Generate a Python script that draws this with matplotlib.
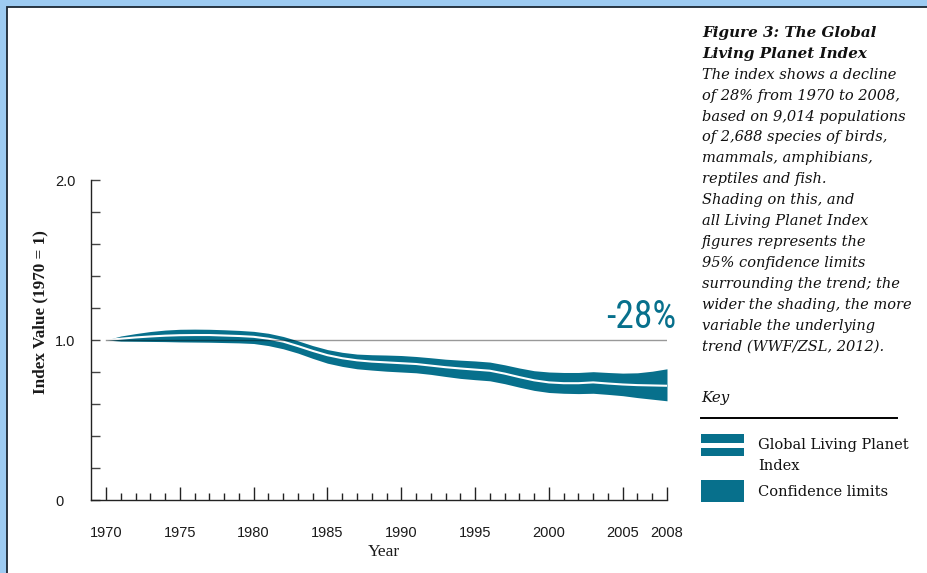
import matplotlib
matplotlib.use("Agg")
import matplotlib.pyplot as plt
from matplotlib.patches import Rectangle
from matplotlib.lines import Line2D
from matplotlib.ticker import FixedLocator

# ---------------- data ----------------
years = list(range(1970, 2009))
lpi_index = [1.000, 1.008, 1.016, 1.022, 1.027, 1.030, 1.031, 1.031, 1.028, 1.025,
             1.020, 1.008, 0.990, 0.962, 0.932, 0.905, 0.886, 0.873, 0.865, 0.860,
             0.855, 0.850, 0.840, 0.830, 0.822, 0.815, 0.808, 0.790, 0.768, 0.748,
             0.735, 0.730, 0.730, 0.735, 0.728, 0.722, 0.718, 0.716, 0.714]
ci_upper = [1.000, 1.025, 1.040, 1.053, 1.062, 1.067, 1.068, 1.067, 1.064, 1.060,
            1.054, 1.042, 1.022, 0.995, 0.965, 0.940, 0.923, 0.912, 0.908, 0.906,
            0.903, 0.897, 0.889, 0.880, 0.874, 0.869, 0.862, 0.845, 0.825, 0.808,
            0.800, 0.797, 0.797, 0.802, 0.797, 0.793, 0.795, 0.805, 0.820]
ci_lower = [1.000, 0.993, 0.992, 0.991, 0.990, 0.988, 0.987, 0.986, 0.984, 0.982,
            0.978, 0.965, 0.945, 0.918, 0.885, 0.855, 0.835, 0.820, 0.812, 0.805,
            0.800, 0.795, 0.785, 0.772, 0.760, 0.752, 0.745, 0.727, 0.705, 0.685,
            0.672, 0.667, 0.665, 0.667, 0.660, 0.652, 0.640, 0.630, 0.620]
reference_level = 1.0
decline_label = "-28%"
xtick_values = [1970, 1975, 1980, 1985, 1990, 1995, 2000, 2005, 2008]
xtick_labels = [str(v) for v in xtick_values]
ytick_values = [0.0, 1.0, 2.0]
ytick_labels = ["0", "1.0", "2.0"]
yminor_values = [i * 0.2 for i in range(11)]
x_label = "Year"
y_label = "Index Value (1970 = 1)"
title_lines = ["Figure 3: The Global", "Living Planet Index"]
body_lines = ["The index shows a decline",
              "of 28% from 1970 to 2008,",
              "based on 9,014 populations",
              "of 2,688 species of birds,",
              "mammals, amphibians,",
              "reptiles and fish.",
              "Shading on this, and",
              "all Living Planet Index",
              "figures represents the",
              "95% confidence limits",
              "surrounding the trend; the",
              "wider the shading, the more",
              "variable the underlying",
              "trend (WWF/ZSL, 2012)."]
key_title = "Key"
legend_index_lines = ["Global Living Planet", "Index"]
legend_ci_label = "Confidence limits"

# ---------------- style ----------------
TEAL = "#07708c"
W, H = 927, 573
fig = plt.figure(figsize=(W / 100, H / 100), dpi=100)
fig.patch.set_facecolor("#9dcbf2")
fig.patches.append(Rectangle((7.5 / W, -0.02), 1.05, 1.02 - 6.5 / H,
                             transform=fig.transFigure, facecolor="white",
                             edgecolor="#1b2633", lw=1.3, zorder=-10))

def fx(px):
    return px / W

def fy(py):
    return 1 - py / H

ax = fig.add_axes([fx(91), (H - 500) / H, 576 / W, 320 / H])
ax.set_zorder(5)
ax.set_facecolor("none")
ax.set_xlim(1968.98, 2008)
ax.set_ylim(0, 2)

for s in ["top", "right"]:
    ax.spines[s].set_visible(False)
for s in ["left", "bottom"]:
    ax.spines[s].set_color("#222222")
    ax.spines[s].set_linewidth(1.0)

ax.fill_between(years, ci_lower, ci_upper, color=TEAL, lw=0, zorder=2)
ax.plot(years, lpi_index, color="white", lw=1.5, zorder=3, solid_capstyle="butt")
ax.plot([years[0], years[-1]], [reference_level, reference_level],
        color="black", alpha=0.4, lw=1.0, zorder=4)

ax.set_xticks(xtick_values)
ax.set_xticklabels(xtick_labels)
ax.xaxis.set_minor_locator(FixedLocator(years))
ax.tick_params(axis="x", which="major", direction="in", length=9.5, width=1.0,
               color="#222222", pad=19, labelsize=10.5, labelcolor="#1a1a1a")
ax.tick_params(axis="x", which="minor", direction="in", length=5, width=1.0,
               color="#222222")
ax.set_yticks(ytick_values)
ax.set_yticklabels(ytick_labels)
ax.yaxis.set_minor_locator(FixedLocator(yminor_values))
ax.tick_params(axis="y", which="both", direction="in", length=6.5, width=1.0,
               color="#444444")
ax.tick_params(axis="y", which="major", pad=26, labelsize=10.5, labelcolor="#1a1a1a")
for lab in ax.get_yticklabels():
    lab.set_horizontalalignment("left")
for lab in ax.get_xticklabels() + ax.get_yticklabels():
    lab.set_family(["Liberation Sans", "DejaVu Sans"])

ax.set_xlabel(x_label, family=["Liberation Serif", "DejaVu Serif"], fontsize=12.5,
              color="#1a1a1a", va="center")
ax.xaxis.set_label_coords((384 - 91) / 576, (500 - 552) / 320)
ax.set_ylabel(y_label, family=["Liberation Serif", "DejaVu Serif"], fontsize=12.3,
              weight="bold", color="#1a1a1a", va="center")
ax.yaxis.set_label_coords((40 - 91) / 576, (500 - 312) / 320)

fig.text(fx(676), fy(318), decline_label, ha="right", va="center", color=TEAL,
         fontsize=27, fontstretch="condensed", weight="normal",
         family=["Roboto Condensed", "Liberation Sans Narrow", "DejaVu Sans"])

# ---------------- side text ----------------
serif = ["DejaVu Serif"]
pitch = 20.9
y0 = 33
for i, line in enumerate(title_lines):
    fig.text(fx(702), fy(y0 + i * pitch), line, ha="left", va="center",
             family=serif, style="italic", weight="bold", fontsize=10.9,
             color="#111111")
for j, line in enumerate(body_lines):
    fig.text(fx(702), fy(y0 + (j + 2) * pitch), line, ha="left", va="center",
             family=serif, style="italic", fontsize=10.5, color="#111111")

fig.text(fx(701), fy(398), key_title, ha="left", va="center", family=serif,
         style="italic", fontsize=10.8, color="#111111")
fig.add_artist(Line2D([fx(701), fx(897)], [fy(418), fy(418)], color="black",
                      lw=1.4, transform=fig.transFigure))

def px_rect(x0, y0p, x1, y1p, color):
    fig.patches.append(Rectangle((fx(x0), fy(y1p)), (x1 - x0) / W, (y1p - y0p) / H,
                                 transform=fig.transFigure, facecolor=color,
                                 edgecolor="none", zorder=2))

px_rect(701, 434, 744, 442.5, TEAL)
px_rect(701, 447.5, 744, 456, TEAL)
px_rect(701, 480, 744, 501.5, TEAL)
fig.text(fx(758), fy(445), legend_index_lines[0], ha="left", va="center",
         family=serif, fontsize=10.5, color="#111111")
fig.text(fx(758), fy(466), legend_index_lines[1], ha="left", va="center",
         family=serif, fontsize=10.5, color="#111111")
fig.text(fx(758), fy(492), legend_ci_label, ha="left", va="center",
         family=serif, fontsize=10.5, color="#111111")

fig.savefig("out.png", dpi=100, facecolor=fig.get_facecolor())
